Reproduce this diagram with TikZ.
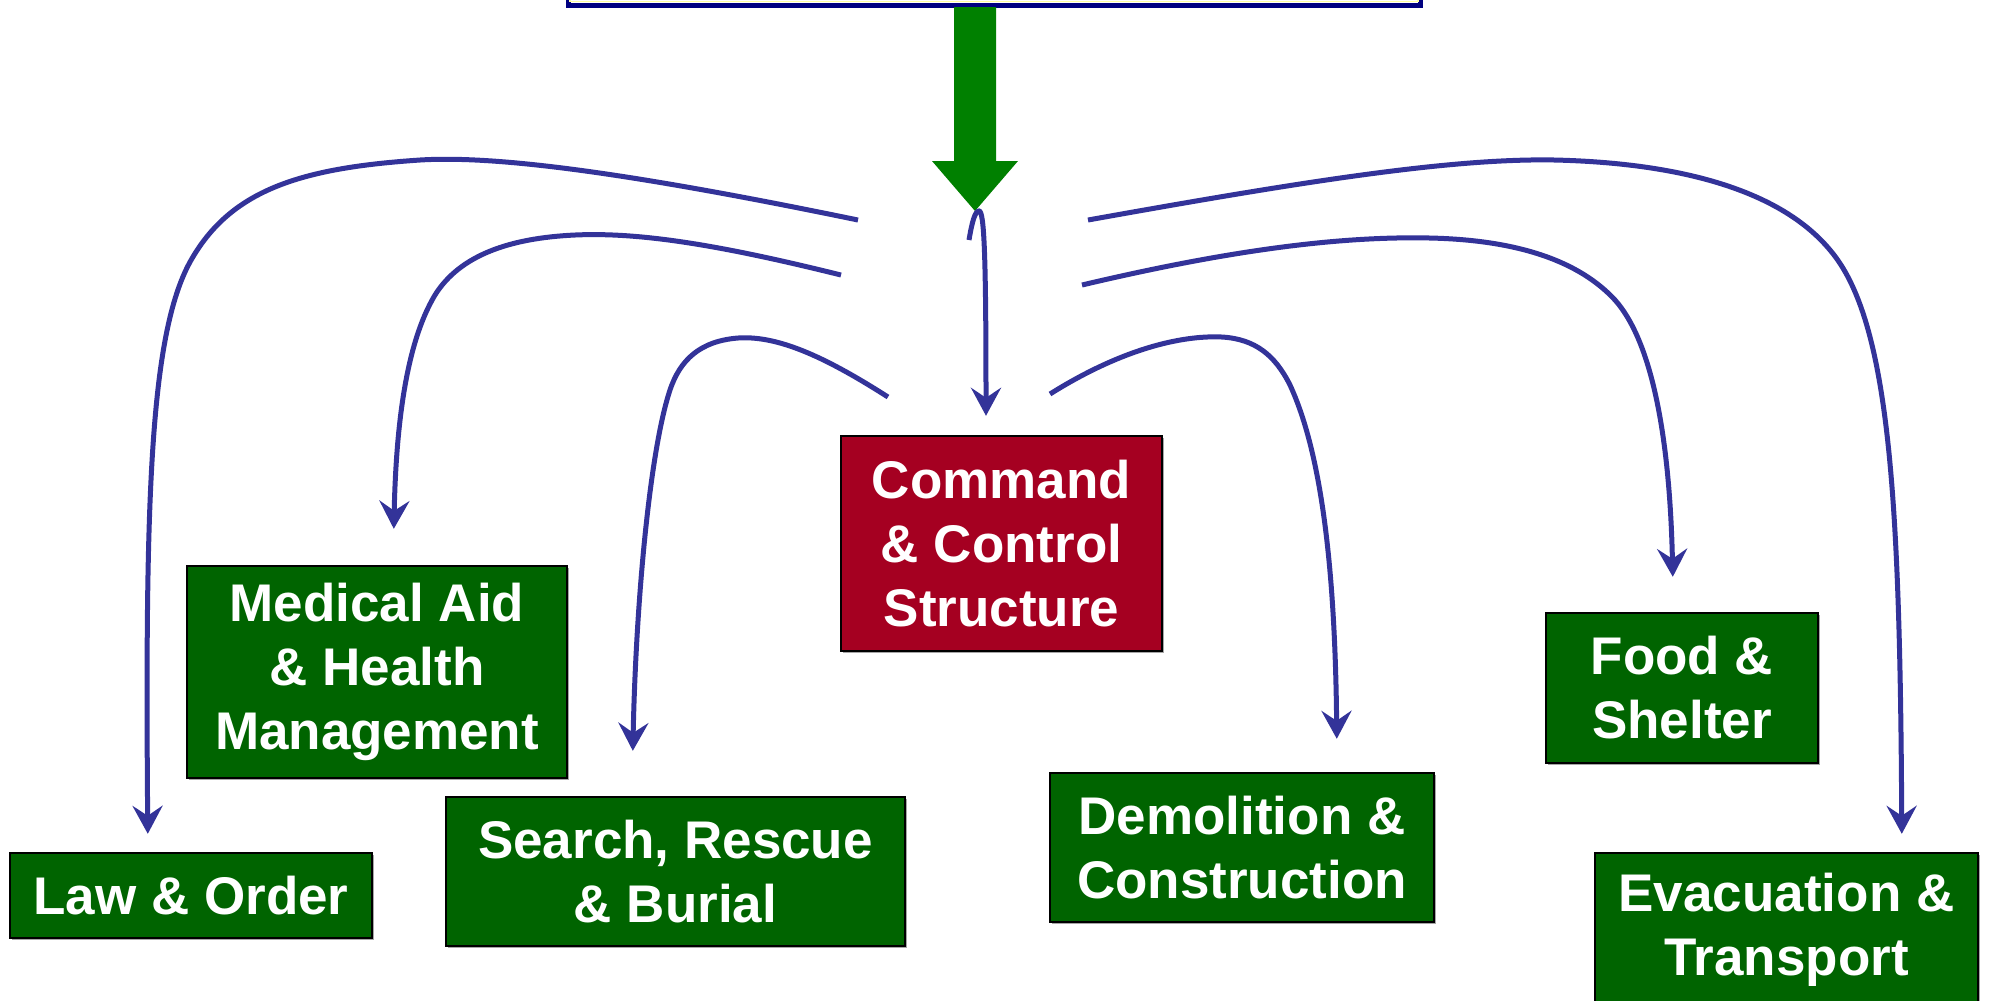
\documentclass[tikz,border=0pt]{standalone}
\usepackage{fontspec}
\setmainfont{Liberation Sans}
\usetikzlibrary{arrows.meta,shadows,calc}

\definecolor{linkblue}{RGB}{51,51,153}
\definecolor{taskgreen}{RGB}{0,100,0}
\definecolor{cmdred}{RGB}{165,0,33}
\definecolor{flowgreen}{RGB}{0,128,0}
\definecolor{framenavy}{RGB}{0,0,128}
\definecolor{frameyellow}{RGB}{255,255,160}

\tikzset{
  box/.style={rectangle, draw=black, line width=0.6pt, inner sep=0pt,
    text=white, align=center,
    font=\fontsize{13.25}{16}\selectfont\bfseries,
    drop shadow={shadow xshift=0.5pt, shadow yshift=-0.5pt, fill=black!35, opacity=1}},
  task/.style={box, fill=taskgreen},
  command/.style={box, fill=cmdred},
  link/.style={draw=linkblue, line width=1.25pt,
    -{Stealth[length=7pt,width=7.5pt,inset=2.5pt]}},
}

\begin{document}
\begin{tikzpicture}[x=0.25pt,y=-0.25pt]
\clip (0,0) rectangle (1993,1000);
\fill[white] (0,0) rectangle (1993,1000);

% plan frame at the top, running off the page
\node[draw=framenavy, line width=1.25pt, fill=white, inner sep=0pt,
      minimum width=213pt, minimum height=16.25pt] (plan) at (994,-27.5) {};
\draw[frameyellow, line width=0.4pt] (570,-60) -- (570,1.5) -- (1418,1.5) -- (1418,-60);

% thick green flow arrow down to the hub
\coordinate (hub) at (975,211);
\fill[flowgreen] (954,7) -- (996,7) -- (996,161) -- (1018,161) -- (hub)
  -- (932,161) -- (954,161) -- cycle;

% task boxes
\node[task, minimum width=90.5pt, minimum height=21.25pt] (law) at (191,895.5) {Law \& Order};
\node[task, minimum width=95pt, minimum height=53pt] (medical) at (377,672)
  {Medical Aid\\\& Health\\Management};
\node[task, minimum width=114.75pt, minimum height=37.25pt] (search) at (675.5,871.5)
  {Search, Rescue\\\& Burial};
\node[command, minimum width=80.25pt, minimum height=53.75pt] (command) at (1001.5,543.5)
  {Command\\\& Control\\Structure};
\node[task, minimum width=96pt, minimum height=37.25pt] (demolition) at (1242,847.5)
  {Demolition \&\\Construction};
\node[task, minimum width=68pt, minimum height=37.5pt] (food) at (1682,688)
  {Food \&\\Shelter};
\node[task, minimum width=95.75pt, minimum height=38.25pt] (evac) at (1786.5,929.5)
  {Evacuation \&\\Transport};

% loose starting ends of the distribution links
\coordinate (s1) at (858,220);
\coordinate (s2) at (841,275);
\coordinate (s3) at (888,397);
\coordinate (s4) at (969,240);
\coordinate (s5) at (1050,394);
\coordinate (s6) at (1082,285);
\coordinate (s7) at (1088,220);

% arrow tips just above each box
\coordinate (t1) at ($(law.north west)+(139,-18)$);
\coordinate (t2) at ($(medical.north west)+(208,-36)$);
\coordinate (t3) at ($(search.north west)+(188,-45)$);
\coordinate (t4) at ($(command.north)+(-15.5,-19)$);
\coordinate (t5) at ($(demolition.north west)+(288,-33)$);
\coordinate (t6) at ($(food.north west)+(128,-35)$);
\coordinate (t7) at ($(evac.north west)+(308,-18)$);

% distribution links
\draw[link] (s1) .. controls (640,175) and (500,155) .. (420,160)
  .. controls (300,168) and (230,190) .. (190,262)
  .. controls (150,335) and (145,500) .. (t1);
\draw[link] (s2) .. controls (720,245) and (640,232) .. (575,235)
  .. controls (510,238) and (460,255) .. (435,295)
  .. controls (405,345) and (396,430) .. (t2);
\draw[link] (s3) .. controls (830,360) and (780,335) .. (738,338)
  .. controls (700,341) and (680,360) .. (670,390)
  .. controls (650,450) and (636,600) .. (t3);
\draw[link] (s4) .. controls (972,222) and (975,211) .. (979,211)
  .. controls (984,211) and (986,250) .. (t4);
\draw[link] (s5) .. controls (1120,350) and (1180,335) .. (1222,337)
  .. controls (1255,339) and (1275,355) .. (1290,385)
  .. controls (1320,450) and (1335,560) .. (t5);
\draw[link] (s6) .. controls (1230,250) and (1340,236) .. (1430,238)
  .. controls (1520,240) and (1580,262) .. (1615,300)
  .. controls (1655,345) and (1670,450) .. (t6);
\draw[link] (s7) .. controls (1300,182) and (1450,158) .. (1555,160)
  .. controls (1680,163) and (1780,190) .. (1830,250)
  .. controls (1890,320) and (1900,500) .. (t7);
\end{tikzpicture}
\end{document}
